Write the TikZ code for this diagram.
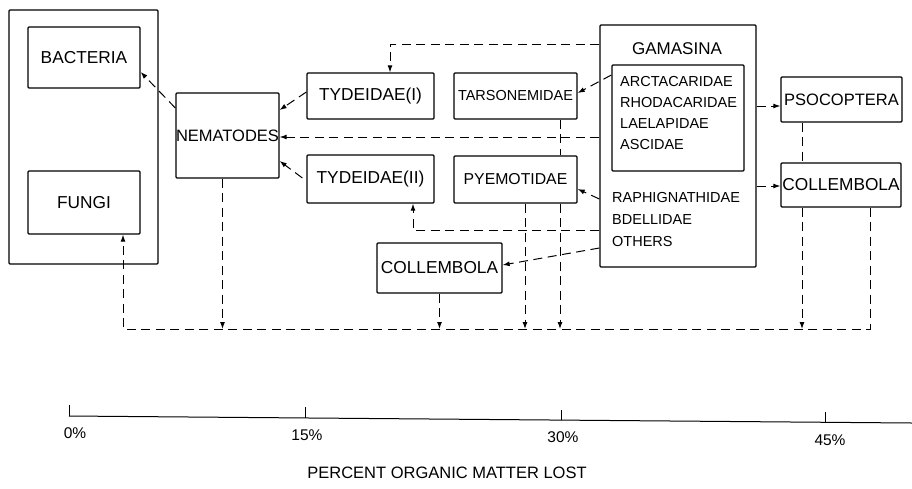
\documentclass[tikz,border=0pt]{standalone}
\usepackage{fontspec}
\setmainfont{Liberation Sans}
\usetikzlibrary{arrows.meta,calc}
\newcommand{\fs}[1]{\fontsize{#1}{#1}\selectfont}
\tikzset{
  box/.style={draw, line width=1.3pt, rounded corners=1pt, inner sep=0pt, align=center, font=\fs{16.5}},
  dsh/.style={line width=1pt, dash pattern=on 9pt off 5.5pt},
  arr/.style={dsh, -{Latex[length=7pt,width=5pt]}},
  lbl/.style={font=\fs{14.5}, inner sep=0pt, anchor=west},
  ax/.style={line width=1pt},
  axl/.style={font=\fs{15.5}, inner sep=0pt}
}
\begin{document}
\begin{tikzpicture}[x=1pt,y=-1pt]
\useasboundingbox (0,0) rectangle (912,488);
% left big box
\node[box, minimum width=149pt, minimum height=254pt] (outer) at (83.5,137) {};
\node[box, minimum width=112pt, minimum height=61pt, font=\fs{17.3}] (bact) at (84,57.5) {BACTERIA};
\node[box, minimum width=112pt, minimum height=63pt, font=\fs{17.3}] (fungi) at (84,202.5) {FUNGI};
\node[box, minimum width=101pt, minimum height=85pt] (nema) at (227.5,135.5) {NEMATODES};
\node[box, minimum width=127pt, minimum height=46pt, font=\fs{17.3}] (ty1) at (370.5,96) {TYDEIDAE(I)};
\node[box, minimum width=123pt, minimum height=46pt, font=\fs{14.5}] (tars) at (515.5,96) {TARSONEMIDAE};
\node[box, minimum width=127pt, minimum height=48pt, font=\fs{17.3}] (ty2) at (370.5,179) {TYDEIDAE(II)};
\node[box, minimum width=123pt, minimum height=47pt, font=\fs{15.8}] (pyem) at (515.5,179.5) {PYEMOTIDAE};
\node[box, minimum width=125pt, minimum height=50pt, font=\fs{17.3}] (coll1) at (439.5,268) {COLLEMBOLA};
\node[box, minimum width=156pt, minimum height=242pt] (gam) at (678,146) {};
\node[box, minimum width=132pt, minimum height=106pt] (inner) at (678,118) {};
\node[box, minimum width=121pt, minimum height=45pt] (psoc) at (841.5,99.5) {PSOCOPTERA};
\node[box, minimum width=120pt, minimum height=44pt, font=\fs{17.3}] (coll2) at (841,185) {COLLEMBOLA};
% gamasina texts
\node[font=\fs{17}, inner sep=0pt] (gt) at (677,49) {GAMASINA};
\node[lbl] (g1) at (620,82) {ARCTACARIDAE};
\node[lbl] (g2) at (620,103) {RHODACARIDAE};
\node[lbl] (g3) at (620,124) {LAELAPIDAE};
\node[lbl] (g4) at (620,145) {ASCIDAE};
\node[lbl] (g5) at (612,198) {RAPHIGNATHIDAE};
\node[lbl] (g6) at (612,220) {BDELLIDAE};
\node[lbl] (g7) at (612,242) {OTHERS};
% bottom collector line
\coordinate (bl) at (123,329);
\coordinate (br) at (870,329);
% connectors
\draw[arr] ([yshift=27.5pt]nema.west) -- ([yshift=-14.5pt]bact.east);
\draw[arr] ([yshift=4pt]ty1.west) -- ([yshift=25.5pt]nema.east);
\coordinate (gm) at ([yshift=9pt]gam.west);
\draw[arr] (gm) -- (gm -| nema.east);
\draw[arr] ([xshift=-4pt,yshift=1pt]ty2.west) -- ([yshift=-25.5pt]nema.east);
\coordinate (gtop) at ([yshift=102pt]gam.west);
\coordinate (t1) at ([xshift=19.5pt]ty1.north);
\draw[arr] (gtop) -- (gtop -| t1) -- (t1);
\draw[arr] ([yshift=43pt]inner.west) -- ([yshift=3pt]tars.east);
\draw[arr] ([yshift=-53pt]gam.west) -- ([yshift=-9.5pt]pyem.east);
\coordinate (gty) at ([yshift=-84pt]gam.west);
\coordinate (t2) at ([xshift=42.5pt]ty2.south);
\draw[arr] (gty) -- (gty -| t2) -- (t2);
\draw[arr] ([yshift=-102pt]gam.west) -- ([yshift=3pt]coll1.east);
\coordinate (gp) at ([yshift=40pt]gam.east);
\draw[arr] (gp) -- (gp -| psoc.west);
\coordinate (gc) at ([yshift=-40pt]gam.east);
\draw[arr] (gc) -- (gc -| coll2.west);
\coordinate (pc) at ([xshift=-39.5pt]psoc.south);
\draw[dsh] (pc) -- (pc |- coll2.north);
\coordinate (c2a) at ([xshift=-39pt]coll2.south);
\draw[arr] (c2a) -- (c2a |- bl);
\coordinate (c2b) at ([xshift=29pt]coll2.south);
\coordinate (fu) at ([xshift=39pt]fungi.south);
\draw[arr] (c2b) -- (br) -- (bl) -- (fu);
\coordinate (ne) at ([xshift=-5pt]nema.south);
\draw[arr] (ne) -- (ne |- bl);
\draw[arr] (coll1.south) -- (coll1.south |- bl);
\coordinate (ta) at ([xshift=44.5pt]tars.south);
\draw[dsh] (ta) -- (ta |- pyem.north);
\coordinate (pa) at ([xshift=9.5pt]pyem.south);
\draw[arr] (pa) -- (pa |- bl);
\coordinate (pb) at ([xshift=44.5pt]pyem.south);
\draw[arr] (pb) -- (pb |- bl);
% axis
\coordinate (a0) at (69,416);
\coordinate (a1) at (912,423);
\draw[ax] (a0) -- (a1);
\draw[ax] (69,416) -- (69,405);
\draw[ax] (305,418) -- (305,407);
\draw[ax] (561,420) -- (561,409.5);
\draw[ax] (825,422.3) -- (825,412);
\node[axl] (p0) at (75,433) {0\%};
\node[axl] (p15) at (307,435) {15\%};
\node[axl] (p30) at (563,437) {30\%};
\node[axl] (p45) at (830,440) {45\%};
\node[font=\fs{16.5}, inner sep=0pt] (title) at (447,473) {PERCENT ORGANIC MATTER LOST};
\end{tikzpicture}
\end{document}
